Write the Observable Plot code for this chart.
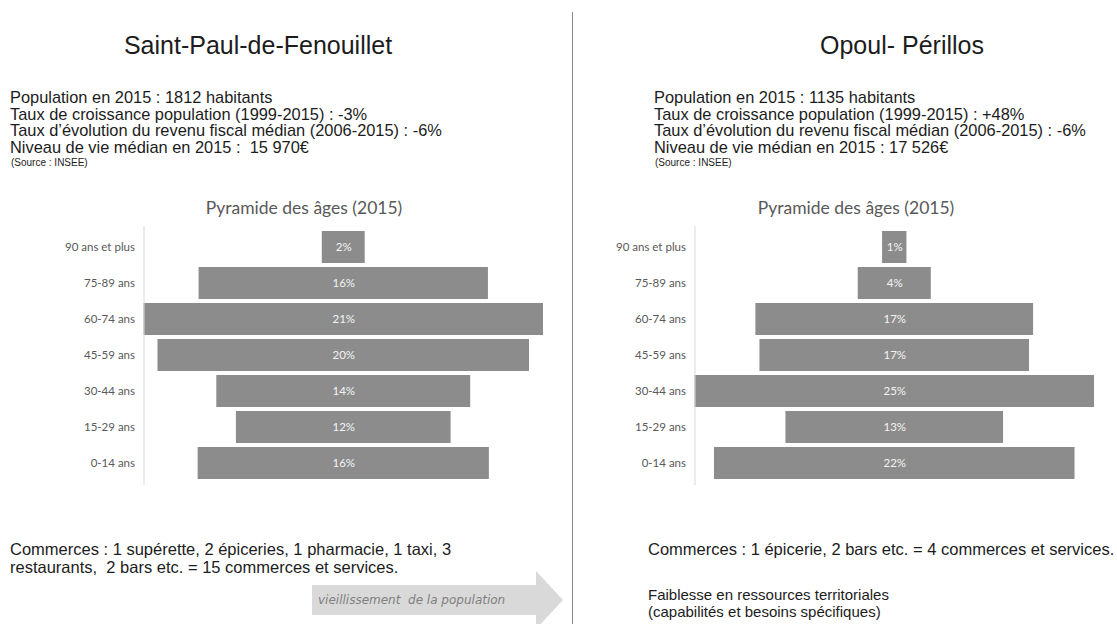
<!DOCTYPE html>
<html><head><meta charset="utf-8">
<script src="https://cdn.jsdelivr.net/npm/d3@7"></script>
<script src="https://cdn.jsdelivr.net/npm/@observablehq/plot@0.6"></script>
<style>
body{margin:0;background:#fff;}
#page{position:relative;width:1117px;height:624px;overflow:hidden;font-family:"Liberation Sans",Arial,sans-serif;color:#1c1c1c;background:#fff;}
.abs{position:absolute;white-space:pre;}
.title{font-size:25px;line-height:30px;transform:translateX(-50%);}
.info{font-size:16.4px;line-height:16.7px;}
.src{font-size:10px;line-height:12px;}
.ctitle{font-family:Lato,"Open Sans",sans-serif;font-size:17.5px;line-height:22px;color:#595959;transform:translateX(-50%);}
.com{font-size:16.5px;line-height:18px;}
.weak{font-size:15px;line-height:17px;}
</style></head><body><div id="page"></div>
<script>
// ---- data ----
const ageGroups = ["90 ans et plus","75-89 ans","60-74 ans","45-59 ans","30-44 ans","15-29 ans","0-14 ans"];
const saintPaulShares = [2.3, 15.5, 21.4, 19.9, 13.6, 11.5, 15.6];
const saintPaulLabels = ["2%","16%","21%","20%","14%","12%","16%"];
const opoulShares = [1.5, 4.5, 17.1, 16.6, 24.6, 13.4, 22.2];
const opoulLabels = ["1%","4%","17%","17%","25%","13%","22%"];
const communeNames = ["Saint-Paul-de-Fenouillet", "Opoul- Périllos"];
const saintPaulInfo = [
  "Population en 2015 : 1812 habitants",
  "Taux de croissance population (1999-2015) : -3%",
  "Taux d’évolution du revenu fiscal médian (2006-2015) : -6%",
  "Niveau de vie médian en 2015 :  15 970€"
];
const opoulInfo = [
  "Population en 2015 : 1135 habitants",
  "Taux de croissance population (1999-2015) : +48%",
  "Taux d’évolution du revenu fiscal médian (2006-2015) : -6%",
  "Niveau de vie médian en 2015 : 17 526€"
];
const sourceText = "(Source : INSEE)";
const chartTitle = "Pyramide des âges (2015)";
const saintPaulCommerces = ["Commerces : 1 supérette, 2 épiceries, 1 pharmacie, 1 taxi, 3", "restaurants,  2 bars etc. = 15 commerces et services."];
const opoulCommerces = ["Commerces : 1 épicerie, 2 bars etc. = 4 commerces et services."];
const opoulNote = ["Faiblesse en ressources territoriales", "(capabilités et besoins spécifiques)"];
const arrowText = "vieillissement  de la population";

// ---- layout helpers ----
const page = document.getElementById("page");
function div(cls, left, top, html, extra) {
  const d = document.createElement("div");
  d.className = "abs " + cls;
  d.style.left = left + "px";
  d.style.top = top + "px";
  d.innerHTML = html;
  if (extra) Object.assign(d.style, extra);
  page.appendChild(d);
  return d;
}

// divider
div("", 572, 12, "", {width:"0px", height:"620px", borderLeft:"1px solid #8a8a8a"});

// titles
div("title", 258, 30, communeNames[0]);
div("title", 902, 30, communeNames[1]);

// info blocks
div("info", 10, 89, saintPaulInfo.join("<br>"));
div("info", 654, 89, opoulInfo.join("<br>"));
div("src", 11, 157, sourceText);
div("src", 655, 157, sourceText);

// chart titles
div("ctitle", 304, 197, chartTitle);
div("ctitle", 856, 197, chartTitle);

// commerces
div("com", 10, 540, saintPaulCommerces.join("<br>"));
div("com", 648, 540, opoulCommerces.join("<br>"));
div("weak", 648, 586, opoulNote.join("<br>"));

// arrow (annotation)
const ns = "http://www.w3.org/2000/svg";
const arrowSvg = document.createElementNS(ns, "svg");
arrowSvg.setAttribute("width", 1117); arrowSvg.setAttribute("height", 624);
arrowSvg.style.position = "absolute"; arrowSvg.style.left = "0"; arrowSvg.style.top = "0";
const poly = document.createElementNS(ns, "polygon");
poly.setAttribute("points", "312,585 536,585 536,571 563,600 536,629 536,615 312,615");
poly.setAttribute("fill", "#d9d9d9");
arrowSvg.appendChild(poly);
const at = document.createElementNS(ns, "text");
at.setAttribute("x", 318); at.setAttribute("y", 604);
at.setAttribute("font-family", "DejaVu Sans, Verdana, sans-serif");
at.setAttribute("font-style", "italic");
at.setAttribute("font-size", "12");
at.setAttribute("fill", "#7f7f7f");
at.style.whiteSpace = "pre";
at.textContent = arrowText;
arrowSvg.appendChild(at);
page.appendChild(arrowSvg);

// ---- pyramids ----
function pyramid(values, labels, w, mLeft, mRight) {
  const rows = ageGroups.map((g, i) => ({age: g, v: values[i], label: labels[i]}));
  const m = d3.max(values);
  return Plot.plot({
    width: w, height: 300,
    marginTop: 36, marginBottom: 5, marginLeft: mLeft, marginRight: mRight,
    x: {domain: [-m / 2, m / 2], axis: null},
    y: {domain: ageGroups, padding: 0.1, label: null},
    style: {fontFamily: "Lato, 'Open Sans', sans-serif", fontSize: "11.5px", color: "#595959", background: "transparent", overflow: "visible"},
    marks: [
      Plot.barX(rows, {y: "age", x1: d => -d.v / 2, x2: d => d.v / 2, fill: "#8c8c8c"}),
      Plot.ruleX([-m / 2], {stroke: "#d9d9d9", strokeWidth: 1}),
      Plot.text(rows, {y: "age", x: 0, text: "label", fill: "#f4f4f4", fontSize: 11.5}),
      Plot.axisY({tickSize: 0, tickPadding: 9, label: null, fontSize: 11.5})
    ]
  });
}
const left = pyramid(saintPaulShares, saintPaulLabels, 560, 143.5, 17);
left.style.position = "absolute"; left.style.left = "0px"; left.style.top = "190px";
page.appendChild(left);
const right = pyramid(opoulShares, opoulLabels, 557, 134.5, 23);
right.style.position = "absolute"; right.style.left = "560px"; right.style.top = "190px";
page.appendChild(right);
</script>
</body></html>
